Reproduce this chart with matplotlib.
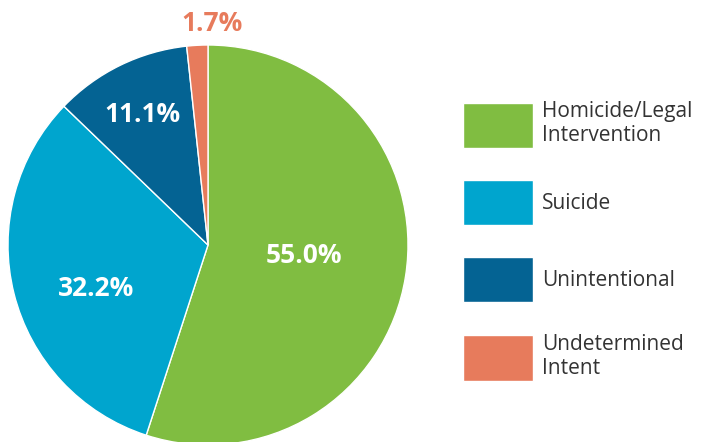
import numpy as np
import matplotlib.pyplot as plt

# data
categories = ["Homicide/Legal\nIntervention", "Suicide", "Unintentional", "Undetermined\nIntent"]
shares = [55.0, 32.2, 11.1, 1.7]
colors = ["#80BD41", "#00A5CE", "#046393", "#E77B5C"]
label_colors = ["white", "white", "white", "#E77B5C"]
label_dist = [0.48, 0.60, 0.73, 1.11]
label_turn = [3, 7, 0.6, -4]  # degrees off the wedge middle

plt.rcParams['font.family'] = ['Open Sans', 'DejaVu Sans']

fig = plt.figure(figsize=(7.04, 4.42), dpi=100)
ax = fig.add_axes([8 / 704, -3 / 442, 400 / 704, 400 / 442])

wedges, _ = ax.pie(shares, colors=colors, startangle=90, counterclock=False,
                   radius=1, wedgeprops=dict(edgecolor="white", linewidth=1))
ax.set_xlim(-1, 1)
ax.set_ylim(-1, 1)
ax.set_aspect("equal")
ax.axis("off")

for w, val, c, d, t in zip(wedges, shares, label_colors, label_dist, label_turn):
    mid = np.deg2rad((w.theta1 + w.theta2) / 2 + t)
    ax.text(d * np.cos(mid), d * np.sin(mid), f"{val:.1f}%", color=c,
            fontsize=19, fontweight="bold", ha="center", va="center",
            clip_on=False)

fig.legend(wedges, categories, loc="upper left",
           bbox_to_anchor=(463 / 704, 1 - 101 / 442), frameon=False,
           fontsize=15, handlelength=70 / (15 * 100 / 72), handleheight=3.0,
           handletextpad=0.45, labelspacing=1.5, borderpad=0, borderaxespad=0,
           labelcolor="#333333")

fig.savefig("out.png", dpi=100)
